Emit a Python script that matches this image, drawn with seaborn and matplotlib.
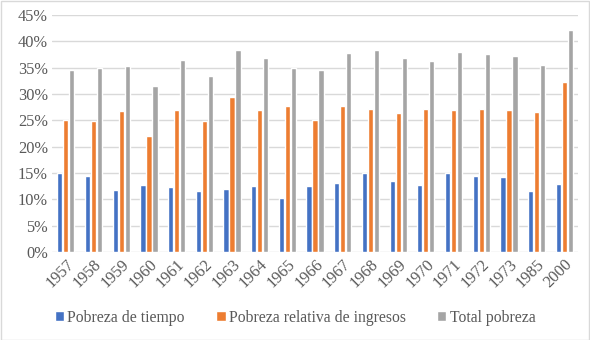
import matplotlib
matplotlib.use("Agg")
import matplotlib.pyplot as plt
import seaborn as sns
import pandas as pd
from matplotlib.ticker import FuncFormatter, MultipleLocator
from matplotlib.patches import Rectangle

years = ["1957", "1958", "1959", "1960", "1961", "1962", "1963", "1964", "1965", "1966",
         "1967", "1968", "1969", "1970", "1971", "1972", "1973", "1985", "2000"]
pobreza_tiempo = [14.9, 14.5, 11.7, 12.8, 12.4, 11.5, 12.0, 12.6, 10.3, 12.6,
                  13.1, 15.0, 13.5, 12.8, 15.0, 14.5, 14.3, 11.6, 12.9]
pobreza_ingresos = [25.0, 24.8, 26.7, 22.1, 26.9, 24.8, 29.5, 26.9, 27.8, 25.1,
                    27.7, 27.2, 26.4, 27.2, 27.0, 27.2, 27.0, 26.6, 32.3]
total_pobreza = [34.5, 35.0, 35.3, 31.6, 36.4, 33.5, 38.3, 36.8, 34.9, 34.6,
                 37.8, 38.4, 36.9, 36.3, 38.0, 37.6, 37.2, 35.5, 42.2]
series_names = ["Pobreza de tiempo", "Pobreza relativa de ingresos", "Total pobreza"]
colors = ["#4472C4", "#ED7D31", "#A5A5A5"]

rows = []
for name, vals in zip(series_names, [pobreza_tiempo, pobreza_ingresos, total_pobreza]):
    for y, v in zip(years, vals):
        rows.append({"year": y, "serie": name, "valor": v})
df = pd.DataFrame(rows)

sns.set_theme(style="white")
plt.rcParams["font.family"] = ["Liberation Serif", "DejaVu Serif"]

fig = plt.figure(figsize=(5.9, 3.4), dpi=100)
ax = fig.add_axes([0.088, 0.259, 0.892, 0.697])

sns.barplot(data=df, x="year", y="valor", hue="serie", order=years,
            hue_order=series_names, palette=colors, width=0.65, gap=0.12,
            saturation=1, ax=ax, legend=True)

ax.set_ylim(0, 45)
ax.set_xlim(-0.5, len(years) - 0.5)
ax.yaxis.set_major_locator(MultipleLocator(5))
ax.yaxis.set_major_formatter(FuncFormatter(lambda v, p: f"{int(round(v))}%"))
ax.grid(axis="y", color="#D9D9D9", linewidth=1)
ax.set_axisbelow(True)
for s in ax.spines.values():
    s.set_visible(False)
ax.set_xlabel("")
ax.set_ylabel("")
ax.tick_params(axis="both", length=0, labelsize=11.8, colors="#595959", pad=3)
for lab in ax.get_xticklabels():
    lab.set_rotation(45)
    lab.set_ha("right")
    lab.set_rotation_mode("anchor")

handles, labels = ax.get_legend_handles_labels()
ax.legend_.remove()
fig.legend(handles, labels, loc="center", bbox_to_anchor=(0.5, 0.065), ncol=3,
           frameon=False, fontsize=11.3, handlelength=0.6, handleheight=0.6,
           handletextpad=0.2, columnspacing=2.0, labelcolor="#595959")

fig.patches.append(Rectangle((0.001, 0.001), 0.997, 0.996, transform=fig.transFigure,
                             fill=False, edgecolor="#D9D9D9", linewidth=1))

fig.savefig("out.png", dpi=100)
